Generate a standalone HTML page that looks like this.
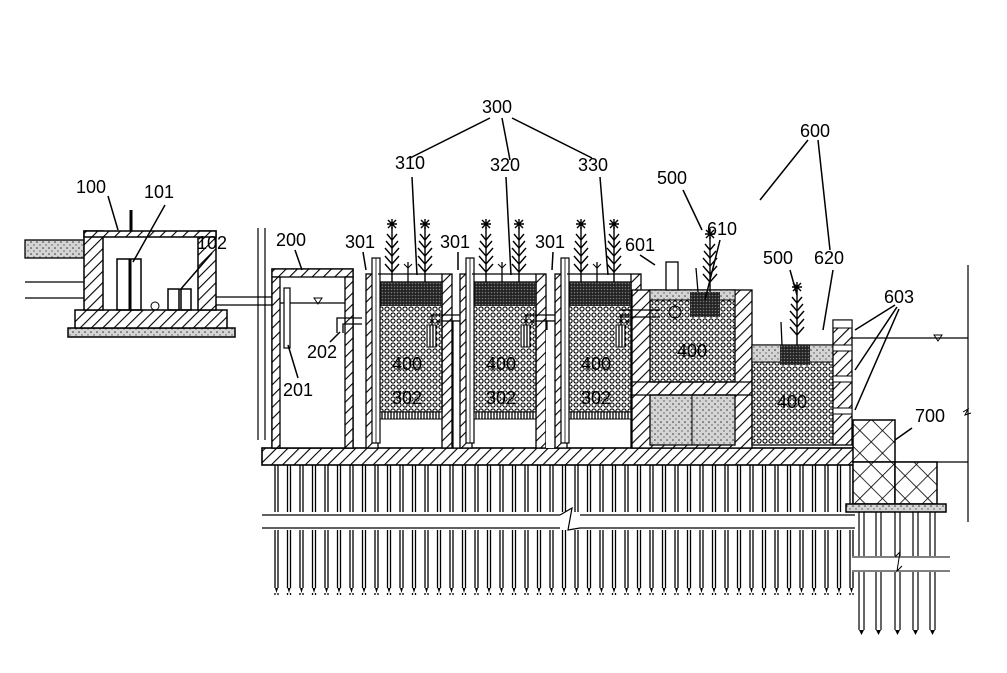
<!DOCTYPE html>
<html><head><meta charset="utf-8"><style>
html,body{margin:0;padding:0;background:#fff;}
svg{display:block;}
text{font-family:"Liberation Sans",sans-serif;font-size:18px;fill:#000;}
</style></head><body>
<svg width="1007" height="673" viewBox="0 0 1007 673" xmlns="http://www.w3.org/2000/svg">
<defs>
<pattern id="hatch" width="8" height="8" patternUnits="userSpaceOnUse" patternTransform="rotate(45)">
<rect width="8" height="8" fill="#fff"/><line x1="0" y1="0" x2="0" y2="8" stroke="#000" stroke-width="2.2"/></pattern>
<pattern id="media" width="6" height="6" patternUnits="userSpaceOnUse">
<rect width="6" height="6" fill="#fff"/><circle cx="3" cy="3" r="2.1" fill="none" stroke="#000" stroke-width="1.1"/></pattern>
<pattern id="dark" width="3" height="3" patternUnits="userSpaceOnUse">
<rect width="3" height="3" fill="#222"/><circle cx="1.5" cy="1.5" r="0.8" fill="#777"/></pattern>
<pattern id="sand" width="6" height="6" patternUnits="userSpaceOnUse">
<rect width="6" height="6" fill="#d4d4d4"/><circle cx="1" cy="2" r="0.8" fill="#333"/><circle cx="4" cy="5" r="0.7" fill="#555"/></pattern>
<pattern id="cross" width="16" height="16" patternUnits="userSpaceOnUse" patternTransform="rotate(45)">
<rect width="16" height="16" fill="#fff"/><line x1="0" y1="0" x2="16" y2="0" stroke="#000" stroke-width="1.6"/><line x1="0" y1="0" x2="0" y2="16" stroke="#000" stroke-width="1.6"/></pattern>
<pattern id="grate" width="3" height="6" patternUnits="userSpaceOnUse"><rect width="3" height="6" fill="#fff"/><line x1="1" y1="0" x2="1" y2="6" stroke="#000" stroke-width="1.3"/></pattern>
<pattern id="piles" width="12.5" height="130" patternUnits="userSpaceOnUse" x="272" y="463">
<line x1="3" y1="0" x2="3" y2="125" stroke="#000" stroke-width="1.3"/><line x1="6" y1="0" x2="6" y2="125" stroke="#000" stroke-width="1.3"/><polygon points="3,125 6,125 4.5,130" fill="#000"/></pattern>
<g id="plant" stroke="#000" stroke-width="1.4" fill="none">
<line x1="0" y1="0" x2="0" y2="-55"/>
<path d="M0,-10 l-7,-8 M0,-18 l-7,-8 M0,-26 l-7,-8 M0,-34 l-6,-7 M0,-42 l-5,-6 M0,-10 l7,-8 M0,-18 l7,-8 M0,-26 l7,-8 M0,-34 l6,-7 M0,-42 l5,-6"/>
<path d="M-5,-58 l10,0 M0,-63 l0,10 M-4,-62 l8,8 M4,-62 l-8,8"/>
</g>
</defs>

<!-- left inflow pipe / ground -->
<rect x="25" y="240" width="59" height="18" fill="url(#sand)" stroke="#000" stroke-width="1.3"/>
<line x1="25" y1="282" x2="84" y2="282" stroke="#000" stroke-width="1.3"/>
<line x1="25" y1="298" x2="84" y2="298" stroke="#000" stroke-width="1.3"/>
<!-- 100 box -->
<rect x="68" y="328" width="167" height="9" fill="url(#sand)" stroke="#000" stroke-width="1.5"/>
<rect x="75" y="310" width="152" height="18" fill="url(#hatch)" stroke="#000" stroke-width="1.5"/>
<rect x="84" y="231" width="19" height="79" fill="url(#hatch)" stroke="#000" stroke-width="1.5"/>
<rect x="198" y="231" width="18" height="79" fill="url(#hatch)" stroke="#000" stroke-width="1.5"/>
<rect x="84" y="231" width="132" height="6" fill="url(#hatch)" stroke="#000" stroke-width="1.5"/>
<line x1="131" y1="210" x2="131" y2="231" stroke="#000" stroke-width="3"/>
<rect x="117" y="259" width="24" height="51" fill="none" stroke="#000" stroke-width="1.5"/>
<line x1="130" y1="259" x2="130" y2="310" stroke="#000" stroke-width="3"/>
<rect x="168" y="289" width="11" height="21" fill="none" stroke="#000" stroke-width="1.5"/>
<rect x="181" y="289" width="10" height="21" fill="none" stroke="#000" stroke-width="1.5"/>
<circle cx="155" cy="306" r="4" fill="none" stroke="#000"/>
<line x1="216" y1="297" x2="285" y2="297" stroke="#000" stroke-width="1.3"/>
<line x1="216" y1="305" x2="285" y2="305" stroke="#000" stroke-width="1.3"/>
<line x1="258" y1="228" x2="258" y2="440" stroke="#000" stroke-width="1.2"/>
<line x1="265" y1="228" x2="265" y2="440" stroke="#000" stroke-width="1.2"/>

<!-- base slab -->
<rect x="262" y="448" width="593" height="17" fill="url(#hatch)" stroke="#000" stroke-width="1.6"/>
<rect x="272" y="465" width="583" height="130" fill="url(#piles)"/>
<rect x="262" y="512" width="596" height="18" fill="#fff"/>
<line x1="262" y1="515" x2="560" y2="515" stroke="#000" stroke-width="1.2"/><line x1="580" y1="515" x2="855" y2="515" stroke="#000" stroke-width="1.2"/>
<line x1="262" y1="528" x2="560" y2="528" stroke="#000" stroke-width="1.2"/><line x1="580" y1="528" x2="855" y2="528" stroke="#000" stroke-width="1.2"/>
<path d="M560,515 L572,508 L568,530 L580,528" fill="none" stroke="#000" stroke-width="1.2"/>

<!-- tank 200 -->
<rect x="272" y="269" width="81" height="179" fill="#fff" stroke="#000" stroke-width="1.5"/>
<rect x="272" y="269" width="81" height="8" fill="url(#hatch)" stroke="#000" stroke-width="1.3"/>
<rect x="272" y="277" width="8" height="171" fill="url(#hatch)" stroke="#000" stroke-width="1.3"/>
<rect x="345" y="277" width="8" height="171" fill="url(#hatch)" stroke="#000" stroke-width="1.3"/>
<line x1="280" y1="303" x2="345" y2="303" stroke="#000" stroke-width="1.2"/>
<path d="M314,298 l4,6 l4,-6 z" fill="none" stroke="#000"/>
<rect x="284" y="288" width="6" height="60" fill="#fff" stroke="#000" stroke-width="1.2"/>
<path d="M337,333 L337,318 L362,318 M343,333 L343,324 L362,324" fill="none" stroke="#000" stroke-width="1.3"/>

<!-- three 300 tanks -->
<g id="t1">
<rect x="366" y="274" width="12" height="174" fill="url(#hatch)" stroke="#000" stroke-width="1.3"/>
<rect x="442" y="274" width="10" height="174" fill="url(#hatch)" stroke="#000" stroke-width="1.3"/>
<rect x="378" y="282" width="64" height="130" fill="url(#media)" stroke="#000" stroke-width="1.3"/>
<rect x="378" y="282" width="64" height="24" fill="url(#dark)"/>
<rect x="378" y="412" width="64" height="7" fill="url(#grate)" stroke="#000"/>
<rect x="372" y="258" width="8" height="185" fill="#fff" stroke="#000" stroke-width="1.2"/>
<line x1="376" y1="258" x2="376" y2="443" stroke="#000" stroke-width="0.8"/>
<line x1="378" y1="274" x2="442" y2="274" stroke="#000" stroke-width="1.2"/>
<rect x="427" y="325" width="9" height="22" fill="url(#grate)" stroke="#000"/>
<path d="M432,325 L432,315 L468,315" fill="none" stroke="#000" stroke-width="1.3"/>
<path d="M438,325 L438,321 L468,321" fill="none" stroke="#000" stroke-width="1.3"/>
<rect x="453" y="321" width="9" height="127" fill="#fff" stroke="#000" stroke-width="1.2"/>
<text x="392" y="370">400</text>
<text x="392" y="404">302</text>
<use href="#plant" x="392" y="282"/><use href="#plant" x="425" y="282"/>
<line x1="408" y1="282" x2="408" y2="262" stroke="#000" stroke-width="1.3"/><path d="M404,264 l4,4 l4,-4" fill="none" stroke="#000"/>
</g>
<use href="#t1" x="94"/>
<use href="#t1" x="189"/>
<rect x="546" y="330" width="8" height="118" fill="#fff"/>
<rect x="641" y="320" width="12" height="128" fill="#fff"/>

<!-- tank 610 -->
<rect x="632" y="290" width="120" height="158" fill="url(#hatch)" stroke="#000" stroke-width="1.3"/>
<rect x="650" y="290" width="85" height="92" fill="url(#media)" stroke="#000" stroke-width="1.3"/>
<rect x="650" y="290" width="85" height="10" fill="url(#sand)" stroke="#000"/>
<rect x="690" y="292" width="30" height="25" fill="url(#dark)"/>
<rect x="650" y="395" width="85" height="50" fill="url(#sand)" stroke="#000" stroke-width="1.3"/>
<line x1="692" y1="395" x2="692" y2="445" stroke="#000"/>
<line x1="632" y1="382" x2="752" y2="382" stroke="#000" stroke-width="1.3"/>
<line x1="632" y1="395" x2="752" y2="395" stroke="#000" stroke-width="1.3"/>
<path d="M620,310 L660,310 M620,317 L660,317" stroke="#000" stroke-width="1.3"/>
<circle cx="675" cy="312" r="6" fill="none" stroke="#000"/>
<rect x="666" y="262" width="12" height="28" fill="#fff" stroke="#000" stroke-width="1.3"/>
<text x="677" y="357">400</text>
<use href="#plant" x="710" y="292"/>
<line x1="698" y1="292" x2="696" y2="268" stroke="#000" stroke-width="1.3"/>
<!-- tank 620 -->
<rect x="752" y="345" width="83" height="100" fill="url(#media)" stroke="#000" stroke-width="1.3"/>
<rect x="752" y="345" width="83" height="17" fill="url(#sand)" stroke="#000"/>
<rect x="780" y="345" width="30" height="20" fill="url(#dark)"/>
<text x="777" y="408">400</text>
<use href="#plant" x="797" y="345"/>
<line x1="782" y1="345" x2="781" y2="322" stroke="#000" stroke-width="1.3"/>
<rect x="833" y="320" width="19" height="125" fill="url(#hatch)" stroke="#000" stroke-width="1.3"/>
<rect x="833" y="320" width="19" height="8" fill="#fff" stroke="#000"/>
<rect x="833" y="345" width="19" height="6" fill="#fff" stroke="#000"/>
<rect x="833" y="376" width="19" height="6" fill="#fff" stroke="#000"/>
<rect x="833" y="408" width="19" height="6" fill="#fff" stroke="#000"/>
<line x1="852" y1="338" x2="968" y2="338" stroke="#000" stroke-width="1.2"/>
<path d="M934,335 l4,6 l4,-6 z" fill="none" stroke="#000"/>
<line x1="968" y1="265" x2="968" y2="522" stroke="#000" stroke-width="1.2"/>
<path d="M963,412 l5,-3 l-3,6 l6,-2" fill="none" stroke="#000"/>
<line x1="895" y1="462" x2="968" y2="462" stroke="#000" stroke-width="1.2"/>
<!-- 700 -->
<rect x="853" y="420" width="42" height="42" fill="url(#cross)" stroke="#000" stroke-width="1.5"/>
<rect x="853" y="462" width="42" height="42" fill="url(#cross)" stroke="#000" stroke-width="1.5"/>
<rect x="895" y="462" width="42" height="42" fill="url(#cross)" stroke="#000" stroke-width="1.5"/>
<rect x="846" y="504" width="100" height="8" fill="url(#sand)" stroke="#000" stroke-width="1.5"/>
<g stroke="#000" stroke-width="1.2">
<line x1="859" y1="512" x2="859" y2="630"/><line x1="864" y1="512" x2="864" y2="630"/>
<line x1="876" y1="512" x2="876" y2="630"/><line x1="881" y1="512" x2="881" y2="630"/>
<line x1="895" y1="512" x2="895" y2="630"/><line x1="900" y1="512" x2="900" y2="630"/>
<line x1="913" y1="512" x2="913" y2="630"/><line x1="918" y1="512" x2="918" y2="630"/>
<line x1="930" y1="512" x2="930" y2="630"/><line x1="935" y1="512" x2="935" y2="630"/>
</g>
<g fill="#000"><polygon points="859,630 864,630 861.5,635"/><polygon points="876,630 881,630 878.5,635"/><polygon points="895,630 900,630 897.5,635"/><polygon points="913,630 918,630 915.5,635"/><polygon points="930,630 935,630 932.5,635"/></g>
<rect x="852" y="556" width="100" height="16" fill="#fff"/>
<line x1="852" y1="557" x2="950" y2="557" stroke="#000"/><line x1="852" y1="571" x2="950" y2="571" stroke="#000"/>
<path d="M895,557 l5,-5 l-3,19 l5,-5" fill="none" stroke="#000"/>

<!-- labels & leaders -->
<g stroke="#000" stroke-width="1.5" fill="none">
<path d="M490,118 L410,158 M502,118 L510,160 M512,118 L592,158"/>
<path d="M412,177 L417,275 M506,177 L511,275 M600,177 L608,275"/>
<path d="M808,140 L760,200 M818,140 L830,250"/>
<path d="M683,190 L702,230"/>
<path d="M720,240 L705,300"/>
<path d="M790,270 L797,295"/>
<path d="M833,270 L823,330"/>
<path d="M108,196 L118,230 M165,205 L133,262 M212,253 L180,290"/>
<path d="M295,250 L302,270 M363,252 L366,270 M458,252 L458,270 M553,252 L552,270 M640,255 L655,265"/>
<path d="M330,342 L340,332 M298,378 L288,345"/>
<path d="M895,305 L855,330 M897,307 L855,370 M899,309 L855,410"/>
<path d="M912,428 L895,440"/>
</g>
<text x="482" y="113">300</text>
<text x="800" y="137">600</text>
<text x="395" y="169">310</text>
<text x="490" y="171">320</text>
<text x="578" y="171">330</text>
<text x="657" y="184">500</text>
<text x="76" y="193">100</text>
<text x="144" y="198">101</text>
<text x="276" y="246">200</text>
<text x="345" y="248">301</text>
<text x="440" y="248">301</text>
<text x="535" y="248">301</text>
<text x="625" y="251">601</text>
<text x="707" y="235">610</text>
<text x="763" y="264">500</text>
<text x="814" y="264">620</text>
<text x="197" y="249">102</text>
<text x="884" y="303">603</text>
<text x="307" y="358">202</text>
<text x="283" y="396">201</text>
<text x="915" y="422">700</text>
</svg>
</body></html>
